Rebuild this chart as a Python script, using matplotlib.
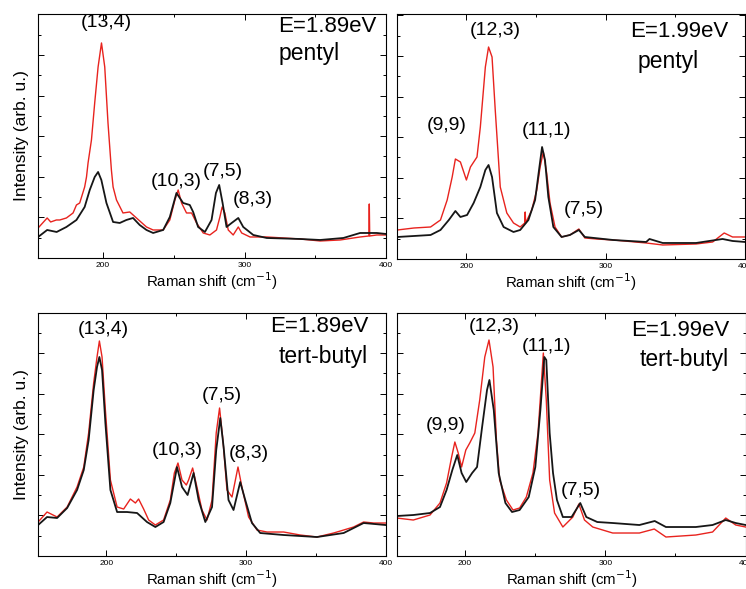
import matplotlib
matplotlib.use('Agg')
import matplotlib.pyplot as plt
from matplotlib.ticker import MultipleLocator

plt.rcParams['font.family'] = ['Liberation Sans', 'DejaVu Sans']

# top left: E=1.89eV pentyl
tl_red_x = [154.1, 160.5, 163, 167, 169.4, 174.1, 178.8, 181.2, 183.5, 187, 188.3, 189.4, 191.8, 194.1, 196.5,
            198.9, 201.2, 203.5, 205.9, 207.1, 209.5, 214.1, 218.9, 223.6, 230.7, 235.4, 242.5, 247.2, 250.8,
            253.1, 255.5, 259, 262.6, 266.1, 270.8, 275.5, 280.2, 282.6, 284.2, 286.1, 288.5, 292, 295.6, 298,
            303.9, 315.7, 339.3, 353.4, 367.6, 381.7, 387.9, 388.2, 388.5, 393.5, 400]
tl_red_y = [30, 40, 36, 38, 38, 40, 45, 53, 55, 71, 81, 95, 118, 155, 191,
            215, 191, 135, 88, 71, 58, 45, 46, 40, 31, 28, 28, 38, 58,
            68, 55, 45, 45, 35, 25, 23, 28, 41, 51, 45, 28, 23, 31, 25,
            21, 21, 19, 17, 18, 21, 22, 54, 22, 23, 23]
tl_blk_x = [154.1, 160.5, 167.2, 174.1, 181.2, 187, 190.6, 194.1, 196.5, 198.8, 202.4, 207.1, 211.8, 216.5,
            221.2, 225.9, 230.7, 235.4, 242.5, 247.2, 251.9, 256.6, 261.3, 263.7, 267.2, 272, 276.7, 279.8,
            282.1, 284.5, 287.3, 290.9, 295.6, 299.1, 306.2, 315.7, 339.3, 353.4, 369.9, 381.7, 393.5, 400]
tl_blk_y = [21, 28, 26, 31, 38, 51, 68, 81, 86, 78, 55, 36, 35, 38,
            40, 33, 28, 25, 28, 41, 65, 55, 53, 46, 31, 26, 38, 65,
            73, 55, 31, 35, 40, 31, 23, 20, 19, 18, 20, 25, 25, 24]

# top right: E=1.99eV pentyl
tr_red_x = [150.5, 162.4, 174.3, 181.4, 186.2, 189.8, 192.1, 195.7, 200, 202.9, 207.6, 210, 213.6, 215.9,
            218.4, 220.7, 224.3, 229, 233.8, 238.6, 241.9, 242.2, 242.5, 246.9, 250.5, 252.9, 255.2, 257.6,
            260, 263.6, 268.3, 274.3, 280.7, 285, 293.3, 305.2, 329, 340.9, 364.8, 376.7, 385, 391, 400]
tr_red_y = [29, 31, 32, 39, 59, 82, 100, 97, 79, 92, 102, 132, 192, 212,
            202, 149, 72, 46, 36, 32, 36, 47, 36, 49, 69, 92, 107, 86,
            56, 32, 22, 24, 30, 21, 20, 19, 16, 14, 15, 17, 26, 22, 22]
tr_blk_x = [150.5, 162.4, 174.3, 181.4, 187.4, 192.1, 195.7, 200.5, 205.2, 210, 213.6, 215.9, 218.4, 221.9,
            226.7, 233.8, 238.6, 244.5, 249.3, 252.4, 254.3, 256.4, 258.8, 262.4, 268.3, 274.3, 280.7, 285,
            305.2, 329, 331.4, 340.9, 364.8, 383.8, 391, 400]
tr_blk_y = [22, 23, 24, 29, 39, 48, 42, 44, 56, 72, 89, 94, 82, 46,
            32, 27, 29, 39, 59, 92, 112, 99, 62, 32, 22, 24, 29, 22,
            19, 17, 20, 16, 16, 20, 18, 17]

# bottom left: E=1.89eV tert-butyl
bl_red_x = [151.1, 157.5, 164.7, 171.9, 179, 183.8, 187.3, 190.9, 193.3, 195, 196.9, 199.3, 202.9, 207.7,
            212.4, 217.2, 220.8, 223.1, 226.7, 230.3, 235.1, 241, 245.8, 248.7, 251.3, 254.2, 257.3, 258.9,
            261.8, 264.9, 268.5, 272.1, 275.7, 278.7, 281.1, 283.5, 286.4, 290, 294.3, 297.1, 301.9, 307.9,
            315.1, 327, 338.9, 350.9, 362.8, 370, 377.1, 384.3, 391.5, 400]
bl_red_y = [34, 44, 39, 49, 69, 89, 123, 173, 199, 215, 199, 146, 76, 49,
            47, 57, 53, 57, 47, 36, 31, 36, 56, 83, 93, 76, 71, 76,
            88, 69, 46, 36, 56, 123, 148, 116, 66, 59, 89, 69, 39, 26,
            24, 24, 21, 19, 23, 26, 29, 34, 33, 33]
bl_blk_x = [151.1, 157.5, 164.7, 171.9, 179, 183.8, 187.3, 190.9, 193.3, 195, 196.9, 199.3, 202.9, 207.7,
            214.8, 222, 229.1, 235.1, 241, 245.8, 250.6, 254.2, 258.2, 262.5, 266.1, 270.9, 275.7, 278.7,
            281.6, 284, 287.5, 291.1, 295.9, 299.5, 304.3, 310.2, 327, 350.9, 370, 384.3, 400]
bl_blk_y = [31, 39, 38, 48, 66, 86, 116, 166, 189, 199, 186, 133, 66, 44,
            44, 43, 34, 29, 34, 53, 89, 69, 61, 83, 56, 34, 49, 106,
            138, 109, 56, 46, 74, 56, 33, 23, 21, 19, 23, 33, 31]

# bottom right: E=1.99eV tert-butyl
br_red_x = [151.5, 163.3, 175.2, 182.3, 187, 190.6, 192.9, 195.3, 197.7, 200.7, 203.5, 207.1, 210.6, 214.2,
            217.2, 220.1, 222.5, 224.8, 229.6, 234.3, 239, 243.8, 248.5, 252.1, 254.5, 255.9, 258, 260.4,
            263.9, 269.8, 276.9, 281.2, 285.2, 291.1, 305.3, 324.3, 334.9, 343.2, 364.5, 376.4, 385.8, 392.9, 400]
br_red_y = [38, 36, 41, 53, 73, 99, 114, 103, 89, 106, 113, 123, 156, 199,
            216, 189, 116, 76, 56, 46, 48, 59, 83, 123, 173, 203, 156, 76,
            43, 29, 39, 52, 36, 29, 23, 23, 27, 19, 21, 24, 38, 31, 29]
br_blk_x = [151.5, 163.3, 175.2, 182.3, 187, 191.1, 194.6, 197.7, 201, 205.2, 208.7, 212.3, 215.8, 217.5,
            220.6, 224.1, 228.9, 233.6, 239, 245.5, 250.2, 253.8, 256.6, 258, 260.4, 262.8, 265.6, 269.8,
            276, 282.2, 286.5, 294.3, 305.3, 324.3, 335.2, 343.2, 364.5, 376.4, 385.8, 392.9, 400]
br_blk_y = [40, 41, 43, 49, 66, 86, 101, 83, 74, 83, 89, 129, 166, 176,
            146, 83, 53, 44, 46, 59, 89, 146, 199, 196, 123, 83, 56, 39,
            39, 53, 39, 34, 33, 31, 35, 29, 29, 31, 36, 33, 31]

tl_labels = [('(13,4)', 202.6, 235), ('(10,3)', 252, 76), ('(7,5)', 284.6, 86), ('(8,3)', 305.8, 58)]
tr_labels = [('(12,3)', 220.7, 229), ('(9,9)', 186.2, 134), ('(11,1)', 257.6, 129), ('(7,5)', 284.3, 49)]
bl_labels = [('(13,4)', 198, 226), ('(10,3)', 250.6, 106), ('(7,5)', 282.8, 161), ('(8,3)', 301.9, 103)]
br_labels = [('(12,3)', 220.6, 229), ('(9,9)', 186.3, 131), ('(11,1)', 258.3, 209), ('(7,5)', 282.3, 66)]

RED = '#e8231e'
BLK = '#161616'


def panel(rect, xmin, ymax, rx, ry, bx, by, labels, energy, epos, group, gpos, gha, ylab):
    ax = fig.add_axes(rect)
    ax.plot(rx, ry, color=RED, lw=1.0)
    ax.plot(bx, by, color=BLK, lw=1.3)
    ax.set_xlim(xmin, 400)
    ax.set_ylim(0, ymax)
    ax.xaxis.set_major_locator(MultipleLocator(100))
    ax.xaxis.set_minor_locator(MultipleLocator(50))
    ax.yaxis.set_major_locator(MultipleLocator(40.6))
    ax.yaxis.set_minor_locator(MultipleLocator(20.3))
    ax.tick_params(which='both', direction='in', top=True, right=True, width=0.7)
    ax.tick_params(which='major', length=4, labelsize=6, pad=3)
    ax.tick_params(which='minor', length=2.5)
    ax.tick_params(axis='y', labelleft=False)
    for s in ax.spines.values():
        s.set_linewidth(0.8)
    ax.set_xlabel('Raman shift (cm$^{-1}$)', fontsize=10.8, labelpad=1)
    if ylab:
        ax.set_ylabel('Intensity (arb. u.)', fontsize=12.5, labelpad=3)
    for t, x, y in labels:
        ax.text(x, y, t, fontsize=14, ha='center', va='center')
    ax.text(epos[0], epos[1], energy, transform=ax.transAxes, fontsize=16, ha='right', va='center')
    ax.text(gpos[0], gpos[1], group, transform=ax.transAxes, fontsize=16.5, ha=gha, va='center')
    return ax


fig = plt.figure(figsize=(7.46, 5.89), dpi=100)
panel([0.0509, 0.562, 0.4665, 0.4143], 154, 244, tl_red_x, tl_red_y, tl_blk_x, tl_blk_y,
      tl_labels, 'E=1.89eV', (0.974, 0.947), 'pentyl', (0.78, 0.836), 'center', True)
panel([0.5318, 0.5603, 0.467, 0.4159], 150, 245, tr_red_x, tr_red_y, tr_blk_x, tr_blk_y,
      tr_labels, 'E=1.99eV', (0.952, 0.928), 'pentyl', (0.78, 0.805), 'center', False)
panel([0.0509, 0.056, 0.4659, 0.4126], 151, 243, bl_red_x, bl_red_y, bl_blk_x, bl_blk_y,
      bl_labels, 'E=1.89eV', (0.95, 0.946), 'tert-butyl', (0.948, 0.82), 'right', True)
panel([0.5318, 0.056, 0.4678, 0.4126], 151.5, 243, br_red_x, br_red_y, br_blk_x, br_blk_y,
      br_labels, 'E=1.99eV', (0.952, 0.927), 'tert-butyl', (0.952, 0.807), 'right', False)

fig.savefig('out.png', dpi=100)
